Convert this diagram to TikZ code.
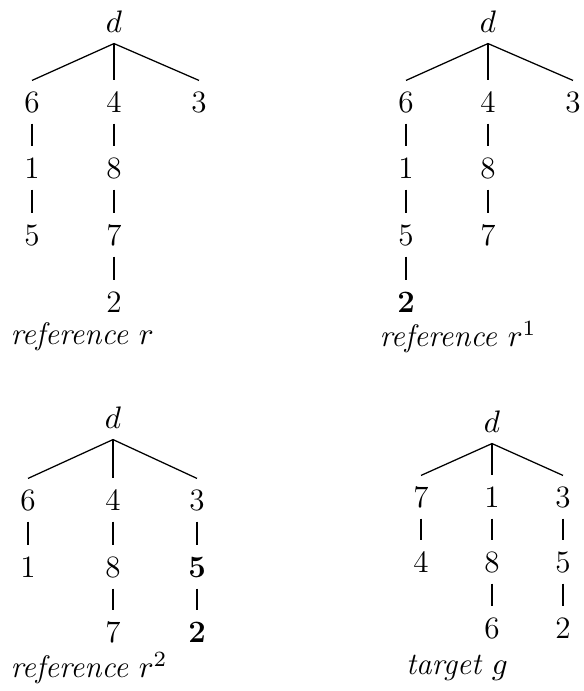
\documentclass[tikz,border=0pt]{standalone}
\usepackage{fix-cm}
\begin{document}
\begin{tikzpicture}[x=0.357pt,y=-0.357pt,
  every node/.style={font=\fontsize{11.1}{13}\selectfont},
  nd/.style={inner sep=0pt,minimum height=15pt,text height=7.6pt,text depth=0pt},
  lbl/.style={inner sep=0pt,font=\fontsize{11.1}{13}\selectfont\itshape},
  ed/.style={line width=0.75pt},
  sl/.style={line width=0.45pt}]
\useasboundingbox (0,0) rectangle (583,691);
% Tree 1
\node[nd] (a0) at (114,22) {$d$};
\node[nd] (a1) at (32,102) {6};
\node[nd] (a2) at (114,102) {4};
\node[nd] (a3) at (199,102) {3};
\node[nd] (a4) at (32,168) {1};
\node[nd] (a5) at (114,168) {8};
\node[nd] (a6) at (32,235) {5};
\node[nd] (a7) at (114,235) {7};
\node[nd] (a8) at (114,302) {2};
\node[lbl,anchor=west] (al) at (10,337) {reference $r$};
\draw[sl] (a0.south) -- (a1.north);
\draw[ed] (a0.south) -- (a2.north);
\draw[sl] (a0.south) -- (a3.north);
\draw[ed] (a1.south) -- (a4.north);
\draw[ed] (a4.south) -- (a6.north);
\draw[ed] (a2.south) -- (a5.north);
\draw[ed] (a5.south) -- (a7.north);
\draw[ed] (a7.south) -- (a8.north);
% Tree 2
\node[nd] (b0) at (488,22) {$d$};
\node[nd] (b1) at (406,102) {6};
\node[nd] (b2) at (488,102) {4};
\node[nd] (b3) at (573,102) {3};
\node[nd] (b4) at (406,168) {1};
\node[nd] (b5) at (488,168) {8};
\node[nd] (b6) at (406,235) {5};
\node[nd] (b7) at (488,235) {7};
\node[nd] (b8) at (406,302) {\textbf{2}};
\node[lbl] (bl) at (458,337) {reference $r^1$};
\draw[sl] (b0.south) -- (b1.north);
\draw[ed] (b0.south) -- (b2.north);
\draw[sl] (b0.south) -- (b3.north);
\draw[ed] (b1.south) -- (b4.north);
\draw[ed] (b4.south) -- (b6.north);
\draw[ed] (b6.south) -- (b8.north);
\draw[ed] (b2.south) -- (b5.north);
\draw[ed] (b5.south) -- (b7.north);
% Tree 3
\node[nd] (c0) at (113,418) {$d$};
\node[nd] (c1) at (28,500) {6};
\node[nd] (c2) at (113,500) {4};
\node[nd] (c3) at (197,500) {3};
\node[nd] (c4) at (28,567) {1};
\node[nd] (c5) at (113,567) {8};
\node[nd] (c6) at (197,567) {\textbf{5}};
\node[nd] (c7) at (113,632) {7};
\node[nd] (c8) at (197,632) {\textbf{2}};
\node[lbl,anchor=west] (cl) at (10,668) {reference $r^2$};
\draw[sl] (c0.south) -- (c1.north);
\draw[ed] (c0.south) -- (c2.north);
\draw[sl] (c0.south) -- (c3.north);
\draw[ed] (c1.south) -- (c4.north);
\draw[ed] (c2.south) -- (c5.north);
\draw[ed] (c5.south) -- (c7.north);
\draw[ed] (c3.south) -- (c6.north);
\draw[ed] (c6.south) -- (c8.north);
% Tree 4
\node[nd] (d0) at (492,422) {$d$};
\node[nd] (d1) at (421,497) {7};
\node[nd] (d2) at (492,497) {1};
\node[nd] (d3) at (563,497) {3};
\node[nd] (d4) at (421,562) {4};
\node[nd] (d5) at (492,562) {8};
\node[nd] (d6) at (563,562) {5};
\node[nd] (d7) at (492,628) {6};
\node[nd] (d8) at (563,628) {2};
\node[lbl] (dl) at (457,668) {target $g$};
\draw[sl] (d0.south) -- (d1.north);
\draw[ed] (d0.south) -- (d2.north);
\draw[sl] (d0.south) -- (d3.north);
\draw[ed] (d1.south) -- (d4.north);
\draw[ed] (d2.south) -- (d5.north);
\draw[ed] (d5.south) -- (d7.north);
\draw[ed] (d3.south) -- (d6.north);
\draw[ed] (d6.south) -- (d8.north);
\end{tikzpicture}
\end{document}
